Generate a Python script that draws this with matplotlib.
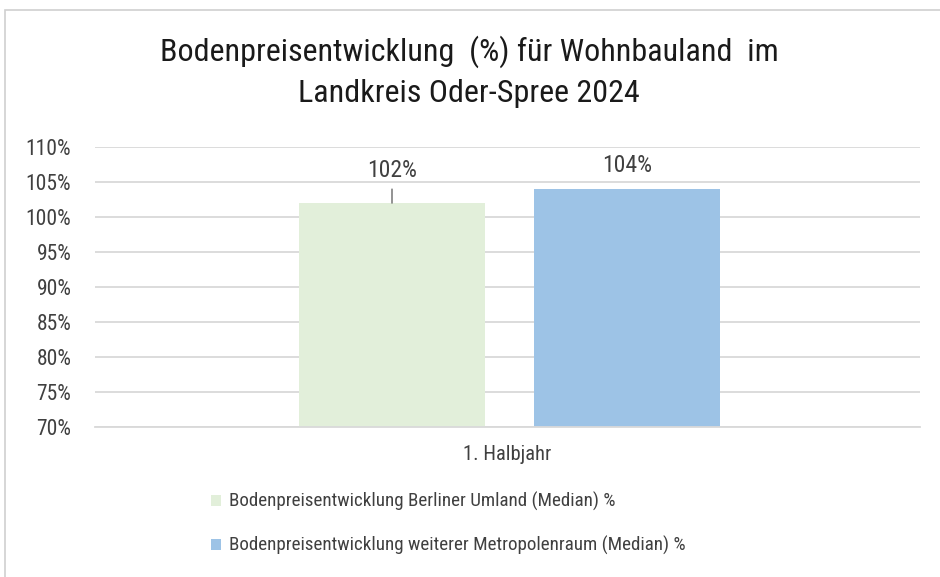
import matplotlib
matplotlib.use('Agg')
import matplotlib.pyplot as plt
from matplotlib.patches import Rectangle

# data
categories = ["1. Halbjahr"]
series_names = [
    "Bodenpreisentwicklung Berliner Umland (Median) %",
    "Bodenpreisentwicklung weiterer Metropolenraum (Median) %",
]
series_values = [102, 104]
series_colors = ["#e2efda", "#9dc3e6"]
y_ticks = [70, 75, 80, 85, 90, 95, 100, 105, 110]

plt.rcParams['font.family'] = ['Roboto Condensed', 'Liberation Sans Narrow', 'DejaVu Sans']

W, H = 940, 577
fig = plt.figure(figsize=(W / 100, H / 100), dpi=100)

# outer chart frame
fig.patches.append(Rectangle((5 / W, -0.01), 1.0, 1 - 10 / H + 0.01,
                             transform=fig.transFigure, fill=False,
                             edgecolor="#d0d0d0", linewidth=1.2))

ax = fig.add_axes([95 / W, (H - 427) / H, 825 / W, 280 / H])

offsets = [-0.14, 0.145]
width = 0.226
for name, val, col, off in zip(series_names, series_values, series_colors, offsets):
    ax.bar(off, val - y_ticks[0], bottom=y_ticks[0], width=width, color=col,
           label=name, zorder=2)

# data labels (first one with a leader line, as in the original)
ax.annotate(f"{series_values[0]}%", xy=(offsets[0], series_values[0]),
            xytext=(offsets[0], series_values[0] + 4.6), ha="center", va="center",
            fontsize=17, color="#404040",
            arrowprops=dict(arrowstyle="-", color="#808080", lw=1.2,
                            shrinkA=3, shrinkB=0))
ax.text(offsets[1], series_values[1] + 3.4, f"{series_values[1]}%",
        ha="center", va="center", fontsize=17, color="#404040")

ax.set_xlim(-0.5, 0.5)
ax.set_ylim(y_ticks[0], y_ticks[-1])
ax.set_yticks(y_ticks)
ax.set_yticklabels([f"{t}%" for t in y_ticks], fontsize=15.5, color="#404040")
ax.set_xticks([0])
ax.set_xticklabels(categories, fontsize=14.8, color="#404040")
ax.tick_params(axis="y", length=0, pad=17)
ax.tick_params(axis="x", length=0, pad=13)
ax.grid(axis="y", color="#d9d9d9", linewidth=1.3, zorder=0)
ax.set_axisbelow(True)
for s in ["top", "right", "left"]:
    ax.spines[s].set_visible(False)
ax.spines["bottom"].set_color("#d9d9d9")
ax.spines["bottom"].set_linewidth(1.3)

fig.text(469 / W, 1 - 52 / H, "Bodenpreisentwicklung  (%) für Wohnbauland  im",
         ha="center", va="center", fontsize=23, color="#1a1a1a")
fig.text(469 / W, 1 - 93 / H, "Landkreis Oder-Spree 2024",
         ha="center", va="center", fontsize=23, color="#1a1a1a")

fig.legend(loc="upper left", bbox_to_anchor=(211 / W, 1 - 492 / H),
           frameon=False, fontsize=13.7, handlelength=0.5, handleheight=0.5,
           handletextpad=0.45, labelspacing=1.3, borderpad=0, borderaxespad=0,
           labelcolor="#404040")

fig.savefig("out.png", dpi=100)
